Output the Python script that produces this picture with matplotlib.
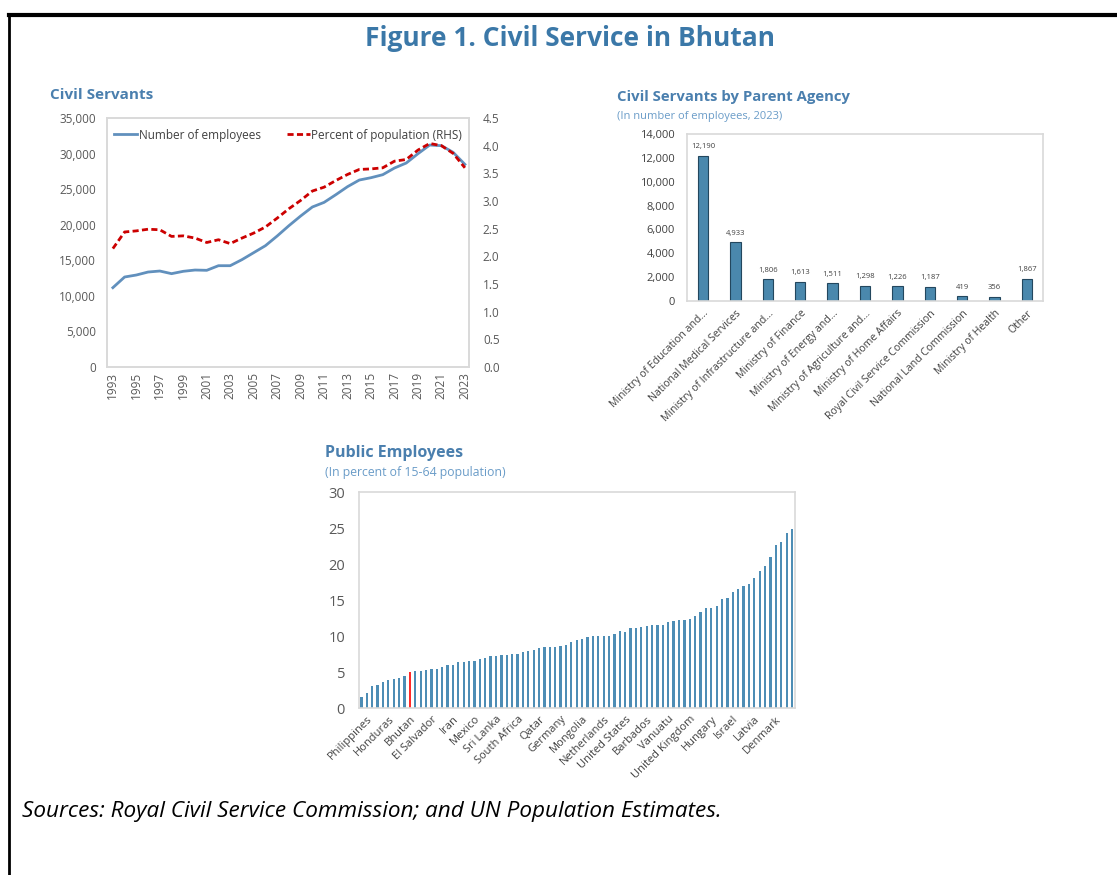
import matplotlib
matplotlib.use("Agg")
import matplotlib.pyplot as plt
from matplotlib.lines import Line2D
import matplotlib.transforms as mtransforms

plt.rcParams['font.family'] = ['Open Sans', 'DejaVu Sans']

# ---------------- data ----------------
years = list(range(1993, 2024))
employees = [11150, 12650, 12930, 13350, 13490, 13120, 13450, 13630, 13590, 14240,
             14240, 15090, 16070, 17050, 18410, 19860, 21220, 22490, 23140, 24220,
             25350, 26280, 26610, 27030, 27970, 28670, 29980, 31200, 31110, 30170, 28480]
pct_population = [2.14, 2.44, 2.46, 2.49, 2.48, 2.36, 2.37, 2.33, 2.25, 2.30,
                  2.23, 2.33, 2.42, 2.53, 2.69, 2.86, 3.01, 3.18, 3.25, 3.37,
                  3.48, 3.57, 3.58, 3.60, 3.72, 3.75, 3.92, 4.04, 4.00, 3.86, 3.60]

agencies = ["Ministry of Education and...", "National Medical Services",
            "Ministry of Infrastructure and...", "Ministry of Finance",
            "Ministry of Energy and...", "Ministry of Agriculture and...",
            "Ministry of Home Affairs", "Royal Civil Service Commission",
            "National Land Commission", "Ministry of Health", "Other"]
agency_counts = [12190, 4933, 1806, 1613, 1511, 1298, 1226, 1187, 419, 356, 1867]

public_emp = [1.59, 2.15, 2.99, 3.13, 3.55, 3.93, 4.07, 4.16, 4.49, 4.95,
              5.09, 5.19, 5.28, 5.42, 5.42, 5.70, 5.93, 5.98, 6.36, 6.36,
              6.50, 6.59, 6.78, 6.92, 7.29, 7.29, 7.38, 7.38, 7.52, 7.52,
              7.76, 7.85, 7.99, 8.27, 8.46, 8.50, 8.50, 8.55, 8.69, 9.16,
              9.49, 9.58, 9.86, 9.95, 9.95, 9.95, 10.05, 10.23, 10.65, 10.61,
              11.07, 11.07, 11.21, 11.36, 11.50, 11.50, 11.50, 11.92, 12.15, 12.24,
              12.29, 12.34, 12.76, 13.32, 13.88, 13.93, 14.21, 15.14, 15.33, 16.17,
              16.59, 16.96, 17.20, 17.99, 18.97, 19.77, 21.03, 22.57, 23.08, 24.25, 24.81]
country_labels = [""] * 81
labelled = {1: "Philippines", 5: "Honduras", 9: "Bhutan", 13: "El Salvador", 17: "Iran",
            21: "Mexico", 25: "Sri Lanka", 29: "South Africa", 33: "Qatar", 37: "Germany",
            41: "Mongolia", 45: "Netherlands", 49: "United States", 53: "Barbados",
            57: "Vanuatu", 61: "United Kingdom", 65: "Hungary", 69: "Israel",
            73: "Latvia", 77: "Denmark"}
for k, v in labelled.items():
    country_labels[k] = v
highlight = "Bhutan"

# ---------------- styling ----------------
W, H = 1117, 875
TITLE_C = '#4a7fae'
SUB_C = '#6a9cc8'
TICK_C = '#595959'
GRID_C = '#d9d9d9'

fig = plt.figure(figsize=(W / 100, H / 100), dpi=100)
fig.patch.set_facecolor('white')


def px_axes(left, top, right, bottom):
    return fig.add_axes([left / W, 1 - bottom / H, (right - left) / W, (bottom - top) / H])


def style_box(ax):
    for s in ax.spines.values():
        s.set_color(GRID_C)
        s.set_linewidth(1.2)
    ax.tick_params(length=0, colors=TICK_C)


# border of the figure box
fig.add_artist(Line2D([9 / W, 9 / W], [0, 1 - 15 / H], color='black', lw=2, transform=fig.transFigure))
fig.add_artist(Line2D([9 / W, 1], [1 - 15 / H, 1 - 15 / H], color='black', lw=3, transform=fig.transFigure))

fig.text(570 / W, 1 - 38 / H, "Figure 1. Civil Service in Bhutan", ha='center', va='center',
         fontsize=19, fontweight='bold', color='#3b78a8')

# ---------------- chart 1 ----------------
ax1 = px_axes(107, 118, 469, 367)
style_box(ax1)
ax1.plot(years, employees, color='#6190bd', lw=2, label='Number of employees')
ax1.set_xlim(1992.5, 2023.35)
ax1.set_ylim(0, 35000)
ax1.set_yticks(range(0, 35001, 5000))
ax1.set_yticklabels([f"{v:,}" for v in range(0, 35001, 5000)], fontsize=8.5)
ax1.set_xticks(years[::2])
ax1.set_xticklabels([str(y) for y in years[::2]], rotation=90, fontsize=8.5)
ax1.tick_params(axis='y', pad=8)
ax1b = ax1.twinx()
ax1b.plot(years, pct_population, color='#cc0000', lw=2, ls=(0, (2.2, 1.2)), label='Percent of population (RHS)')
ax1b.set_ylim(0, 4.5)
ax1b.set_yticks([i * 0.5 for i in range(10)])
ax1b.set_yticklabels([f"{i * 0.5:.1f}" for i in range(10)], fontsize=8.5)
style_box(ax1b)
ax1b.tick_params(axis='y', pad=10)
h1, l1 = ax1.get_legend_handles_labels()
h2, l2 = ax1b.get_legend_handles_labels()
ax1.legend(h1 + h2, l1 + l2, loc='upper center', bbox_to_anchor=(0.5, 1.0), ncol=2, frameon=False,
           fontsize=8.5, handlelength=2.0, handletextpad=0.1, columnspacing=2.2, labelcolor='#404040')
fig.text(50 / W, 1 - 95 / H, "Civil Servants", ha='left', va='center', fontsize=11,
         fontweight='bold', color=TITLE_C)

# ---------------- chart 2 ----------------
ax2 = px_axes(687, 134, 1043, 301)
style_box(ax2)
x2 = list(range(len(agencies)))
ax2.bar(x2, agency_counts, width=0.32, color='#4a88ad', edgecolor='#23475e', linewidth=0.8)
for xi, v in zip(x2, agency_counts):
    ax2.text(xi, v + 450, f"{v:,}", ha='center', va='bottom', fontsize=5.5, color='#404040')
ax2.set_xlim(-0.5, len(agencies) - 0.5)
ax2.set_ylim(0, 14000)
ax2.set_yticks(range(0, 14001, 2000))
ax2.set_yticklabels([f"{v:,}" for v in range(0, 14001, 2000)], fontsize=8, color='#404040')
ax2.set_xticks(x2)
ax2.set_xticklabels(agencies, rotation=45, ha='right', rotation_mode='anchor', fontsize=7.6, color='#404040')
shift = mtransforms.ScaledTranslation(5 / 100, 0, fig.dpi_scale_trans)
for lab in ax2.get_xticklabels():
    lab.set_transform(lab.get_transform() + shift)
ax2.tick_params(axis='y', pad=8.5)
ax2.tick_params(axis='x', pad=5)
fig.text(617 / W, 1 - 97 / H, "Civil Servants by Parent Agency", ha='left', va='center', fontsize=10.7,
         fontweight='bold', color=TITLE_C)
fig.text(617 / W, 1 - 116 / H, "(In number of employees, 2023)", ha='left', va='center', fontsize=8,
         color=SUB_C)

# ---------------- chart 3 ----------------
ax3 = px_axes(359, 492, 795, 708)
style_box(ax3)
x3 = list(range(len(public_emp)))
colors3 = ['#ff2a2a' if c == highlight else '#4d8db5' for c in country_labels]
ax3.bar(x3, public_emp, width=0.42, color=colors3, linewidth=0)
ax3.set_xlim(-0.45, len(public_emp) - 0.45)
ax3.set_ylim(0, 30)
ax3.set_yticks(range(0, 31, 5))
ax3.set_yticklabels([str(v) for v in range(0, 31, 5)], fontsize=10.5)
ax3.tick_params(axis='y', pad=10)
tick_pos = [i for i, c in enumerate(country_labels) if c]
ax3.set_xticks(tick_pos)
ax3.set_xticklabels([country_labels[i] for i in tick_pos], rotation=45, ha='right',
                    rotation_mode='anchor', fontsize=8, color='#404040')
ax3.tick_params(axis='x', pad=4)
fig.text(325 / W, 1 - 453 / H, "Public Employees", ha='left', va='center', fontsize=11.5,
         fontweight='bold', color=TITLE_C)
fig.text(325 / W, 1 - 472 / H, "(In percent of 15-64 population)", ha='left', va='center', fontsize=8.8,
         color=SUB_C)

# ---------------- source ----------------
fig.text(22 / W, 1 - 812 / H, "Sources: Royal Civil Service Commission; and UN Population Estimates.",
         ha='left', va='center', fontsize=16.2, style='italic', color='black')

fig.savefig('out.png', dpi=100, facecolor='white')
